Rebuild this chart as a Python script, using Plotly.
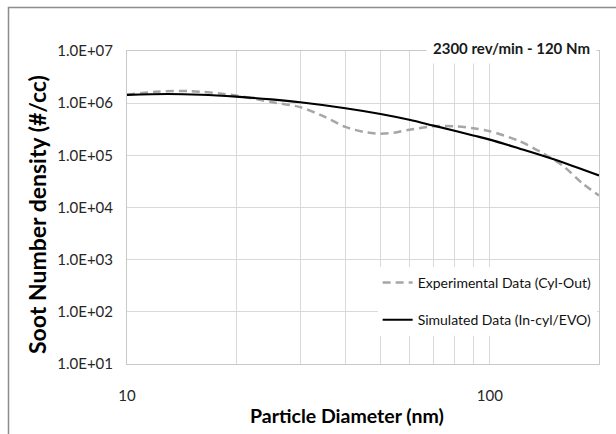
import plotly.graph_objects as go

# Data
exp_diam = [10, 12, 15, 20, 25, 30, 35, 40, 45, 50, 55, 60, 70, 80, 90, 100, 120, 140, 160, 180, 200]
exp_vals = [1.45e6, 1.65e6, 1.7e6, 1.4e6, 1.05e6, 8.4e5, 5.5e5, 3.5e5, 2.8e5, 2.6e5, 2.75e5,
            3.1e5, 3.6e5, 3.6e5, 3.3e5, 2.9e5, 1.9e5, 1.1e5, 6.1e4, 2.9e4, 1.7e4]

sim_diam = [10, 13, 16, 20, 25, 30, 40, 50, 60, 70, 80, 90, 100, 120, 150, 200]
sim_vals = [1.44e6, 1.5e6, 1.45e6, 1.33e6, 1.18e6, 1.04e6, 8.0e5, 6.2e5, 4.8e5, 3.7e5,
            2.96e5, 2.4e5, 2.0e5, 1.37e5, 8.4e4, 4.1e4]

x_ticks = [10, 20, 30, 40, 50, 60, 70, 80, 90, 100, 200]
x_ticktext = ["10", "", "", "", "", "", "", "", "", "100", ""]
y_ticks = [1e1, 1e2, 1e3, 1e4, 1e5, 1e6, 1e7]
y_ticktext = ["1.0E+01", "1.0E+02", "1.0E+03", "1.0E+04", "1.0E+05", "1.0E+06", "1.0E+07"]

FONT = "Lato"

fig = go.Figure()
fig.add_trace(go.Scatter(
    x=exp_diam, y=exp_vals, mode="lines", name="Experimental Data (Cyl-Out)",
    line=dict(color="#a6a6a6", width=2.5, dash="8px,5px", shape="spline", smoothing=0.8),
    legendgroup="a"))
fig.add_trace(go.Scatter(
    x=sim_diam, y=sim_vals, mode="lines", name="Simulated Data (In-cyl/EVO)",
    line=dict(color="#000000", width=2.2, shape="spline", smoothing=1.0),
    legendgroup="b"))

fig.update_layout(
    width=616, height=434,
    margin=dict(l=127, r=17, t=51, b=70),
    paper_bgcolor="white", plot_bgcolor="white",
    font=dict(family=FONT, size=14, color="#262626"),
    legend=dict(x=0.995, xanchor="right", y=0.31, yanchor="top",
                bgcolor="white", borderwidth=0, font=dict(family=FONT, size=14, color="#111111"),
                tracegroupgap=16, traceorder="grouped", itemwidth=30),
    showlegend=True,
)

fig.update_xaxes(
    type="log", range=[1, 2.30103],
    tickvals=x_ticks, ticktext=x_ticktext,
    showgrid=True, gridcolor="#d9d9d9", gridwidth=1,
    showline=True, linecolor="#c8c8c8", linewidth=1, mirror=True,
    ticks="", ticklabelstandoff=18,
    tickfont=dict(family=FONT, size=15, color="#262626"),
    zeroline=False,
)
fig.update_yaxes(
    type="log", range=[1, 7],
    tickvals=y_ticks, ticktext=y_ticktext,
    showgrid=True, gridcolor="#d9d9d9", gridwidth=1,
    showline=True, linecolor="#c8c8c8", linewidth=1, mirror=True,
    ticks="", ticklabelstandoff=10,
    tickfont=dict(family=FONT, size=15, color="#262626"),
    zeroline=False,
)

# axis titles as annotations (positioned as in the reference)
fig.add_annotation(
    text="<b>Particle Diameter (nm)</b>", xref="paper", yref="paper",
    x=(346.5 - 127) / 472, y=(364 - 415) / 313, xanchor="center", yanchor="middle",
    showarrow=False, font=dict(family=FONT, size=19.5, color="#000000"))
fig.add_annotation(
    text="<b>Soot Number density (#/cc)</b>", xref="paper", yref="paper",
    x=(37 - 127) / 472, y=(364 - 215) / 313, xanchor="center", yanchor="middle",
    textangle=-90, showarrow=False, font=dict(family=FONT, size=23, color="#000000"))

fig.add_annotation(
    text="<b>2300 rev/min - 120 Nm</b>", xref="paper", yref="paper",
    x=0.996, y=1.01, xanchor="right", yanchor="middle", showarrow=False,
    font=dict(family=FONT, size=15, color="#1a1a1a"),
    bgcolor="white", borderpad=6,
)

# outer frame
fig.add_shape(type="rect", xref="paper", yref="paper",
              x0=(8.5 - 127) / 472, x1=(630 - 127) / 472,
              y0=(364 - 450) / 313, y1=(364 - 7.5) / 313,
              line=dict(color="#8c8c8c", width=1.5), layer="below")

fig.write_html("out.html")
